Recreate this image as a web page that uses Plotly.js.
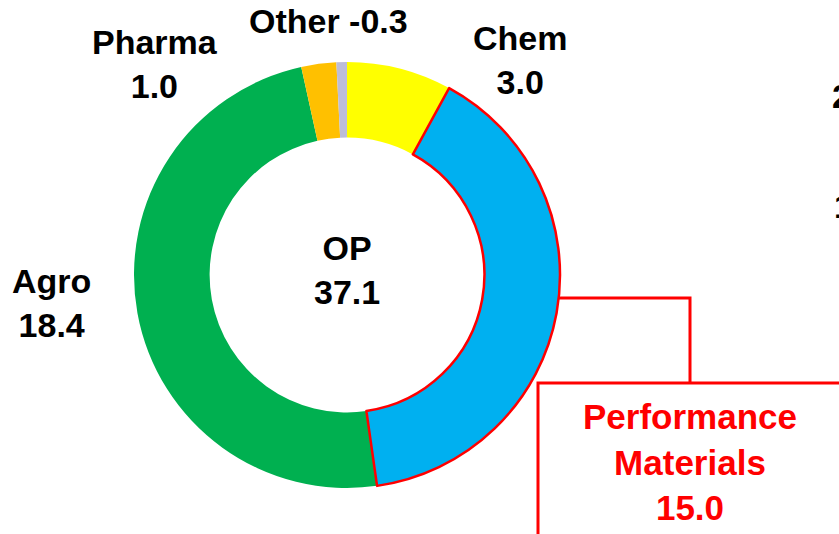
<!DOCTYPE html>
<html>
<head>
<meta charset="utf-8">
<script src="https://cdn.plot.ly/plotly-3.0.1.min.js"></script>
<style>html,body{margin:0;padding:0;background:#fff;}#chart{width:839px;height:534px;}</style>
</head>
<body>
<div id="chart"></div>
<script>
// Data (order starting at the Agro slice so the outlined slice is drawn last)
const categories = ["Agro", "Pharma", "Other", "Chem", "Performance Materials"];
const values = [18.4, 1.0, -0.3, 3.0, 15.0];
const colors = ["#00B050", "#FFC000", "#BDBDD7", "#FFFF00", "#00B0F0"];
const centerLabel = "OP";
const centerValue = 37.1;

const W = 839, H = 534;
const px = (x) => x / W;
const py = (y) => 1 - y / H;

const sizes = values.map(v => Math.abs(v));
const total = sizes.reduce((a, b) => a + b, 0);
// start angle of first slice (Agro) so Chem begins at 12 o'clock
const rot = (sizes[3] + sizes[4]) / total * 360;

const fmt = v => v.toFixed(1);

const trace = {
  type: "pie",
  labels: categories,
  values: sizes,
  sort: false,
  direction: "clockwise",
  rotation: rot,
  hole: 0.645,
  textinfo: "none",
  hoverinfo: "none",
  showlegend: false,
  marker: {
    colors: colors,
    line: {
      color: ["rgba(0,0,0,0)", "rgba(0,0,0,0)", "rgba(0,0,0,0)", "rgba(0,0,0,0)", "#FF0000"],
      width: [0, 0, 0, 0, 2.5]
    }
  },
  domain: { x: [px(347 - 213), px(347 + 213)], y: [py(488), py(62)] }
};

const font = { family: "Liberation Sans, Arial, sans-serif", size: 34, color: "#000" };
const redFont = Object.assign({}, font, { color: "#FF0000", size: 35 });

function ann(x, y, text, f, xanchor) {
  return { xref: "paper", yref: "paper", x: px(x), y: py(y), text: text, showarrow: false,
           font: f || font, xanchor: xanchor || "center", yanchor: "middle", align: "center" };
}

const annotations = [
  ann(155, 64, "<b>" + categories[1] + "</b><br><b>" + fmt(values[1]) + "</b>"),
  ann(328, 21, "<b>" + categories[2] + " " + fmt(values[2]) + "</b>"),
  ann(520, 60, "<b>" + categories[3] + "</b><br><b>" + fmt(values[3]) + "</b>"),
  ann(51, 303, "<b>" + categories[0] + "</b><br><b>" + fmt(values[0]) + "</b>"),
  ann(347, 270, "<b>" + centerLabel + "</b><br><b>" + fmt(centerValue) + "</b>"),
  ann(690, 462, "<b>Performance</b><br><b>Materials</b><br><b>" + fmt(values[4]) + "</b>", redFont),
  ann(830, 96, "<b>2</b>", font, "left"),
  ann(832, 206, "<b>1</b>", font, "left")
];

const red = { color: "#FF0000", width: 3 };
const shapes = [
  { type: "path", xref: "paper", yref: "paper",
    path: `M ${px(559)} ${py(298)} L ${px(690)} ${py(298)} L ${px(690)} ${py(383)}`, line: red },
  { type: "rect", xref: "paper", yref: "paper",
    x0: px(538), y0: py(383), x1: px(860), y1: py(560), line: red, fillcolor: "rgba(0,0,0,0)" }
];

const layout = {
  width: W, height: H,
  margin: { l: 0, r: 0, t: 0, b: 0 },
  paper_bgcolor: "#fff",
  annotations: annotations,
  shapes: shapes
};

Plotly.newPlot("chart", [trace], layout, { displayModeBar: false, staticPlot: true });
</script>
</body>
</html>
